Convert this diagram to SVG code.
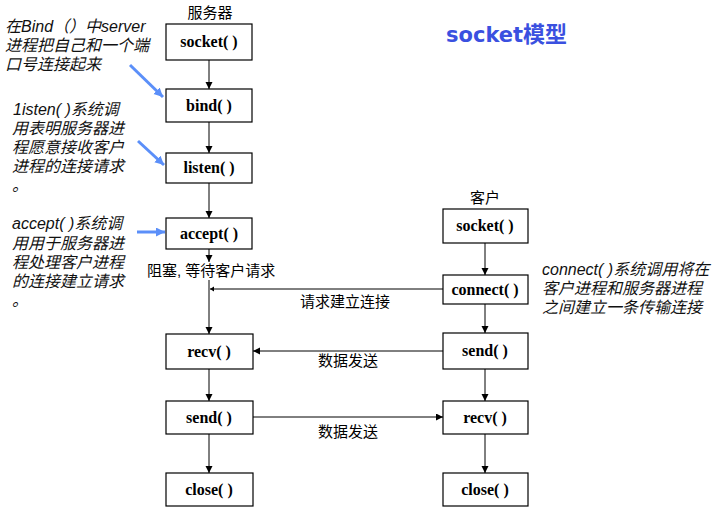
<svg xmlns="http://www.w3.org/2000/svg" width="716" height="518" viewBox="0 0 716 518">
<defs>
<marker id="ah" markerUnits="userSpaceOnUse" markerWidth="8" markerHeight="8" refX="7" refY="3.5" orient="auto"><path d="M0,0 L7,3.5 L0,7 z" fill="#000"/></marker>
<marker id="ahs" markerUnits="userSpaceOnUse" markerWidth="6" markerHeight="6" refX="4" refY="2.5" orient="auto"><path d="M0,0 L4,2.5 L0,5 z" fill="#000"/></marker>
<marker id="ahb" markerUnits="userSpaceOnUse" markerWidth="12" markerHeight="12" refX="9" refY="4.5" orient="auto"><path d="M0,0 L9,4.5 L0,9 z" fill="#5b8ff9"/></marker>
<style>
.box{fill:#fff;stroke:#000;stroke-width:1.2}
.bt{font-family:'Liberation Serif','Times New Roman','DejaVu Serif',serif;font-size:16px;font-weight:bold;text-anchor:middle;fill:#000}
.lb{font-family:'Liberation Sans','Noto Sans CJK SC',sans-serif;font-size:15px;fill:#000}
.an{font-family:'Liberation Sans','Noto Sans CJK SC',sans-serif;font-size:16px;font-style:italic;fill:#111}
.ln{stroke:#000;stroke-width:1;fill:none}
.bl{stroke:#5b8ff9;stroke-width:3;fill:none}
</style>
</defs>
<rect width="716" height="518" fill="#fff"/>

<text x="446" y="42" font-family="DejaVu Sans, Noto Sans CJK SC, sans-serif" font-size="21" font-weight="bold" fill="#3a50e0">socket<tspan font-family="Noto Sans CJK SC, sans-serif" font-size="22">模型</tspan></text>

<text class="lb" x="210" y="18" text-anchor="middle">服务器</text>
<text class="lb" x="485" y="203" text-anchor="middle">客户</text>

<g id="connectors">
<line class="ln" x1="209" y1="60" x2="209" y2="89" marker-end="url(#ah)"/>
<line class="ln" x1="209" y1="122" x2="209" y2="153" marker-end="url(#ah)"/>
<line class="ln" x1="209" y1="183" x2="209" y2="218" marker-end="url(#ah)"/>
<line class="ln" x1="209" y1="249" x2="209" y2="262" marker-end="url(#ah)"/>
<line class="ln" x1="209" y1="280" x2="209" y2="334" marker-end="url(#ah)"/>
<line class="ln" x1="209" y1="369" x2="209" y2="401" marker-end="url(#ah)"/>
<line class="ln" x1="209" y1="434" x2="209" y2="473" marker-end="url(#ah)"/>
<line class="ln" x1="485" y1="243" x2="485" y2="275" marker-end="url(#ah)"/>
<line class="ln" x1="485" y1="304" x2="485" y2="333" marker-end="url(#ah)"/>
<line class="ln" x1="485" y1="369" x2="485" y2="401" marker-end="url(#ah)"/>
<line class="ln" x1="485" y1="434" x2="485" y2="473" marker-end="url(#ah)"/>
<line class="ln" x1="443" y1="289" x2="210" y2="289" marker-end="url(#ahs)"/>
<line class="ln" x1="443" y1="351" x2="253" y2="351" marker-end="url(#ah)"/>
<line class="ln" x1="253" y1="417" x2="443" y2="417" marker-end="url(#ah)"/>
<line class="bl" x1="130" y1="65" x2="163" y2="97" marker-end="url(#ahb)"/>
<line class="bl" x1="138" y1="141" x2="164" y2="165" marker-end="url(#ahb)"/>
<line class="bl" x1="137" y1="232" x2="165" y2="232" marker-end="url(#ahb)"/>
</g>

<text class="lb" x="147" y="276">阻塞, 等待客户请求</text>
<text class="lb" x="300" y="307">请求建立连接</text>
<text class="lb" x="318" y="366">数据发送</text>
<text class="lb" x="318" y="437">数据发送</text>

<g id="s_socket"><rect class="box" x="166" y="24" width="86" height="36"/><text class="bt" x="209" y="47">socket( )</text></g>
<g id="s_bind"><rect class="box" x="166" y="89" width="86" height="33"/><text class="bt" x="209" y="111">bind( )</text></g>
<g id="s_listen"><rect class="box" x="166" y="153" width="86" height="30"/><text class="bt" x="209" y="173">listen( )</text></g>
<g id="s_accept"><rect class="box" x="166" y="218" width="86" height="31"/><text class="bt" x="209" y="239">accept( )</text></g>
<g id="s_recv"><rect class="box" x="166" y="334" width="87" height="35"/><text class="bt" x="209" y="357">recv( )</text></g>
<g id="s_send"><rect class="box" x="166" y="401" width="87" height="33"/><text class="bt" x="209" y="423">send( )</text></g>
<g id="s_close"><rect class="box" x="166" y="473" width="87" height="33"/><text class="bt" x="209" y="495">close( )</text></g>

<g id="c_socket"><rect class="box" x="443" y="209" width="85" height="34"/><text class="bt" x="485" y="231">socket( )</text></g>
<g id="c_connect"><rect class="box" x="443" y="275" width="85" height="29"/><text class="bt" x="485" y="295">connect( )</text></g>
<g id="c_send"><rect class="box" x="443" y="333" width="85" height="36"/><text class="bt" x="485" y="356">send( )</text></g>
<g id="c_recv"><rect class="box" x="443" y="401" width="85" height="33"/><text class="bt" x="485" y="423">recv( )</text></g>
<g id="c_close"><rect class="box" x="443" y="473" width="85" height="33"/><text class="bt" x="485" y="495">close( )</text></g>

<g id="note_bind">
<text class="an" x="5" y="32">在Bind（）中server</text>
<text class="an" x="5" y="51">进程把自己和一个端</text>
<text class="an" x="5" y="70">口号连接起来</text>
</g>
<g id="note_listen">
<text class="an" x="13" y="115">1isten( )系统调</text>
<text class="an" x="12" y="134">用表明服务器进</text>
<text class="an" x="12" y="153">程愿意接收客户</text>
<text class="an" x="12" y="172">进程的连接请求</text>
<text class="an" x="12" y="191">。</text>
</g>
<g id="note_accept">
<text class="an" x="12" y="229">accept( )系统调</text>
<text class="an" x="12" y="249">用用于服务器进</text>
<text class="an" x="12" y="268">程处理客户进程</text>
<text class="an" x="12" y="287">的连接建立请求</text>
<text class="an" x="12" y="306">。</text>
</g>
<g id="note_connect">
<text class="an" x="542" y="275">connect( )系统调用将在</text>
<text class="an" x="542" y="294">客户进程和服务器进程</text>
<text class="an" x="542" y="313">之间建立一条传输连接</text>
</g>
</svg>
